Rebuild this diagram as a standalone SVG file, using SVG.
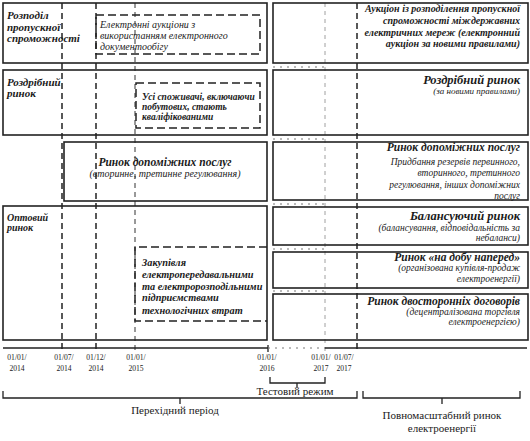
<svg xmlns="http://www.w3.org/2000/svg" width="530" height="441" viewBox="0 0 530 441" font-family="'Liberation Serif', 'Times New Roman', 'DejaVu Serif', serif">
<style>
 .box{fill:none;stroke:#222;stroke-width:1.6}
 .dbox{fill:none;stroke:#222;stroke-width:1.5;stroke-dasharray:8 4}
 .vt{stroke:#222;stroke-width:1.5;stroke-dasharray:6 4;fill:none}
 .vn{stroke:#333;stroke-width:1;stroke-dasharray:5 4;fill:none}
 .vl{stroke:#888;stroke-width:0.8;stroke-dasharray:4 4;fill:none}
 .dot{stroke:#777;stroke-width:1;stroke-dasharray:2 5;fill:none}
 .ln{stroke:#222;stroke-width:1.3;fill:none}
 text{font-family:'Liberation Serif','Times New Roman','DejaVu Serif',serif;fill:#1a1a1a}
 .t{font-weight:bold;font-style:italic}
 .i{font-style:italic}
 .r{text-anchor:end}
 .m{text-anchor:middle}
 .d{font-size:7.6px;text-anchor:middle}
</style>
<g id="connectors">
 <path class="vt" d="M62,3V352M96,3V352M357,3V352"/>
 <path class="vn" d="M135,3V352"/>
 <path class="vl" d="M325,3V352"/>
 <path class="ln" d="M3,348H268M325,348H527M268,345V352"/>
 <path class="dot" d="M268,348H325M273,67H325M273,139H325M273,204H325M273,249H325M273,291H325"/>
 <path class="ln" d="M3,391V398H357V391M180,398V404"/>
 <path class="ln" d="M270,377V383H325V377M297,383V388"/>
 <path class="ln" d="M363,391V398H520V391M442,398V404"/>
</g>
<g id="timeline-labels">
 <text class="d" x="17" y="360">01/01/</text><text class="d" x="17" y="371">2014</text>
 <text class="d" x="64" y="360">01/07/</text><text class="d" x="64" y="371">2014</text>
 <text class="d" x="96" y="360">01/12/</text><text class="d" x="96" y="371">2014</text>
 <text class="d" x="136" y="360">01/01/</text><text class="d" x="136" y="371">2015</text>
 <text class="d" x="267" y="360">01/01/</text><text class="d" x="267" y="371">2016</text>
 <text class="d" x="321" y="360">01/01/</text><text class="d" x="321" y="371">2017</text>
 <text class="d" x="344" y="360">01/07/</text><text class="d" x="344" y="371">2017</text>
 <text class="m" x="295" y="395" font-size="11">Тестовий режим</text>
 <text class="m" x="175" y="414" font-size="11">Перехідний період</text>
 <text class="m" x="442" y="419" font-size="11">Повномасштабний ринок</text>
 <text class="m" x="442" y="432" font-size="11">електроенергії</text>
</g>
<g id="l-capacity">
 <rect class="box" x="3" y="3" width="264" height="60"/>
 <text class="t" x="7" y="19" font-size="11">Розподіл</text>
 <text class="t" x="7" y="31" font-size="11">пропускної</text>
 <text class="t" x="7" y="42" font-size="11">спроможності</text>
</g>
<g id="l-e-auctions">
 <path class="dbox" d="M96,15H260V54H96Z"/>
 <text class="i" x="100" y="28" font-size="10">Електронні аукціони з</text>
 <text class="i" x="100" y="39" font-size="10">використанням електронного</text>
 <text class="i" x="100" y="50" font-size="10">документообігу</text>
</g>
<g id="l-retail">
 <rect class="box" x="3" y="70" width="264" height="65"/>
 <text class="t" x="7" y="86" font-size="11">Роздрібний</text>
 <text class="t" x="7" y="97" font-size="11">ринок</text>
</g>
<g id="l-consumers">
 <path class="dbox" d="M136,83H260V128H136Z"/>
 <text class="t" x="142" y="100" font-size="9.5">Усі споживачі, включаючи</text>
 <text class="t" x="142" y="110" font-size="9.5">побутових, стають</text>
 <text class="t" x="142" y="120" font-size="9.5">кваліфікованими</text>
</g>
<g id="l-ancillary">
 <rect class="box" x="64" y="142" width="203" height="59"/>
 <text class="t m" x="165" y="166" font-size="11.5">Ринок допоміжних послуг</text>
 <text class="i m" x="165" y="177" font-size="10">(вторинне, третинне регулювання)</text>
</g>
<g id="l-wholesale">
 <rect class="box" x="3" y="206" width="264" height="134"/>
 <text class="t" x="7" y="221" font-size="10">Оптовий</text>
 <text class="t" x="7" y="231" font-size="10">ринок</text>
</g>
<g id="l-losses">
 <path class="dbox" d="M267,247H135V321H267"/>
 <text class="t" x="142" y="266" font-size="10.3">Закупівля</text>
 <text class="t" x="142" y="278" font-size="10.3">електропередавальними</text>
 <text class="t" x="142" y="290" font-size="10.3">та електророзподільними</text>
 <text class="t" x="142" y="301" font-size="10.3">підприємствами</text>
 <text class="t" x="142" y="314" font-size="10.3">технологічних втрат</text>
</g>
<g id="r-capacity">
 <rect class="box" x="273" y="3" width="255" height="60"/>
 <text class="t r" x="520" y="12" font-size="10">Аукціон із розподілення пропускної</text>
 <text class="t r" x="520" y="24" font-size="10">спроможності міждержавних</text>
 <text class="t r" x="520" y="36" font-size="10">електричних мереж (електронний</text>
 <text class="t r" x="520" y="47" font-size="10">аукціон за новими правилами)</text>
</g>
<g id="r-retail">
 <rect class="box" x="273" y="70" width="255" height="65"/>
 <text class="t r" x="520" y="84" font-size="12.5">Роздрібний ринок</text>
 <text class="i r" x="520" y="94" font-size="9">(за новими правилами)</text>
</g>
<g id="r-ancillary">
 <rect class="box" x="273" y="142" width="255" height="58"/>
 <text class="t r" x="520" y="151" font-size="11.5">Ринок допоміжних послуг</text>
 <text class="i r" x="520" y="165" font-size="9.5">Придбання резервів первинного,</text>
 <text class="i r" x="520" y="176" font-size="9.5">вторинного, третинного</text>
 <text class="i r" x="520" y="188" font-size="9.5">регулювання, інших допоміжних</text>
 <text class="i r" x="520" y="199" font-size="9.5">послуг</text>
</g>
<g id="r-balancing">
 <rect class="box" x="273" y="207" width="255" height="38"/>
 <text class="t r" x="520" y="220" font-size="12.5">Балансуючий ринок</text>
 <text class="i r" x="520" y="231" font-size="9.5">(балансування, відповідальність за</text>
 <text class="i r" x="520" y="241" font-size="9.5">небаланси)</text>
</g>
<g id="r-dayahead">
 <rect class="box" x="273" y="252" width="255" height="36"/>
 <text class="t r" x="520" y="261" font-size="11.5">Ринок «на добу наперед»</text>
 <text class="i r" x="520" y="271" font-size="9.5">(організована купівля-продаж</text>
 <text class="i r" x="520" y="282" font-size="9.5">електроенергії)</text>
</g>
<g id="r-bilateral">
 <rect class="box" x="273" y="294" width="255" height="46"/>
 <text class="t r" x="520" y="305" font-size="11.5">Ринок двосторонніх договорів</text>
 <text class="i r" x="520" y="315" font-size="9.5">(децентралізована торгівля</text>
 <text class="i r" x="520" y="325" font-size="9.5">електроенергією)</text>
</g>
</svg>
